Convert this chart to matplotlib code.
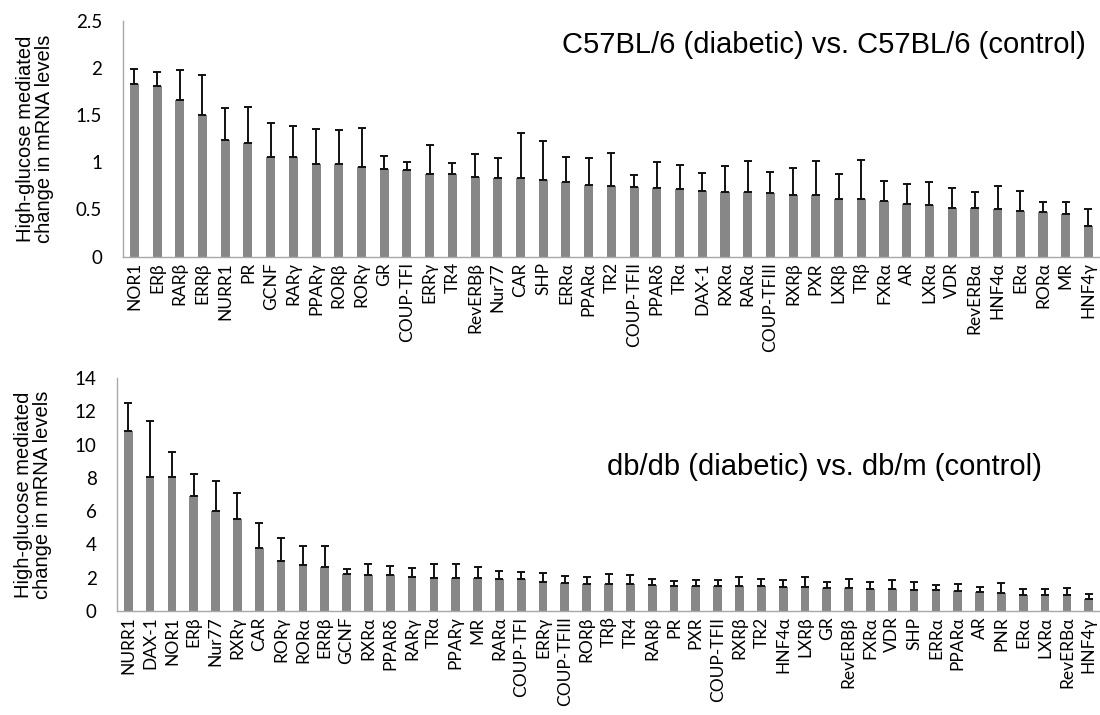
import matplotlib
matplotlib.use("Agg")
import matplotlib.pyplot as plt
import numpy as np

# C57BL/6 diabetic vs control
genes_c57 = ["NOR1", "ERβ", "RARβ", "ERRβ", "NURR1", "PR", "GCNF", "RARγ", "PPARγ",
             "RORβ", "RORγ", "GR", "COUP-TFI", "ERRγ", "TR4", "RevERBβ", "Nur77", "CAR",
             "SHP", "ERRα", "PPARα", "TR2", "COUP-TFII", "PPARδ", "TRα", "DAX-1", "RXRα",
             "RARα", "COUP-TFIII", "RXRβ", "PXR", "LXRβ", "TRβ", "FXRα", "AR", "LXRα",
             "VDR", "RevERBα", "HNF4α", "ERα", "RORα", "MR", "HNF4γ"]
mean_c57 = [1.83, 1.81, 1.66, 1.50, 1.24, 1.20, 1.06, 1.05, 0.98, 0.98, 0.95, 0.93,
            0.92, 0.87, 0.87, 0.84, 0.83, 0.83, 0.81, 0.79, 0.76, 0.75, 0.74, 0.73,
            0.72, 0.70, 0.69, 0.68, 0.67, 0.65, 0.65, 0.61, 0.61, 0.59, 0.56, 0.55,
            0.52, 0.52, 0.50, 0.48, 0.47, 0.45, 0.32]
err_c57 = [0.16, 0.15, 0.32, 0.42, 0.33, 0.38, 0.36, 0.33, 0.37, 0.36, 0.41, 0.14,
           0.08, 0.31, 0.12, 0.25, 0.21, 0.48, 0.41, 0.26, 0.28, 0.35, 0.12, 0.27,
           0.25, 0.19, 0.27, 0.33, 0.23, 0.29, 0.36, 0.26, 0.41, 0.21, 0.21, 0.24,
           0.21, 0.16, 0.25, 0.22, 0.11, 0.13, 0.18]

# db/db diabetic vs db/m control
genes_db = ["NURR1", "DAX-1", "NOR1", "ERβ", "Nur77", "RXRγ", "CAR", "RORγ", "RORα",
            "ERRβ", "GCNF", "RXRα", "PPARδ", "RARγ", "TRα", "PPARγ", "MR", "RARα",
            "COUP-TFI", "ERRγ", "COUP-TFIII", "RORβ", "TRβ", "TR4", "RARβ", "PR", "PXR",
            "COUP-TFII", "RXRβ", "TR2", "HNF4α", "LXRβ", "GR", "RevERBβ", "FXRα", "VDR",
            "SHP", "ERRα", "PPARα", "AR", "PNR", "ERα", "LXRα", "RevERBα", "HNF4γ"]
mean_db = [10.82, 8.07, 8.03, 6.91, 6.03, 5.53, 3.77, 3.02, 2.74, 2.64, 2.21, 2.18,
           2.15, 2.04, 2.00, 1.99, 1.97, 1.95, 1.92, 1.77, 1.70, 1.65, 1.65, 1.60,
           1.58, 1.48, 1.48, 1.48, 1.48, 1.48, 1.44, 1.44, 1.40, 1.40, 1.32, 1.32,
           1.28, 1.26, 1.20, 1.14, 1.08, 0.98, 0.96, 0.94, 0.72]
err_db = [1.66, 3.37, 1.53, 1.34, 1.80, 1.54, 1.52, 1.39, 1.15, 1.27, 0.31, 0.67,
          0.57, 0.52, 0.80, 0.81, 0.68, 0.44, 0.43, 0.50, 0.38, 0.37, 0.57, 0.54,
          0.32, 0.34, 0.36, 0.36, 0.58, 0.44, 0.40, 0.58, 0.36, 0.50, 0.40, 0.54,
          0.48, 0.32, 0.44, 0.32, 0.60, 0.32, 0.38, 0.44, 0.32]

tick_font = ["Lato", "Noto Sans", "DejaVu Sans"]
text_font = ["Liberation Sans", "DejaVu Sans"]
ylab = "High-glucose mediated\nchange in mRNA levels"

fig = plt.figure(figsize=(11, 7.15), dpi=100)
ax1 = fig.add_axes([0.1118, 0.641, 0.888, 0.3303])
ax2 = fig.add_axes([0.1067, 0.1455, 0.893, 0.3259])


def draw(ax, genes, mean, err, ymax, step, title, tx, ty, lab_size):
    x = np.arange(len(genes))
    # upward-only error bars, as in the original Excel figure
    ax.bar(x, mean, width=0.4, color="#878787",
           yerr=[np.zeros(len(err)), err], capsize=3.2,
           error_kw=dict(ecolor="#111111", elinewidth=1.4, capthick=1.4))
    ax.set_xlim(-0.5, len(genes) - 0.5)
    ax.set_ylim(0, ymax)
    ticks = np.arange(0, ymax + step / 2, step)
    ax.set_yticks(ticks)
    ax.set_yticklabels([f"{t:g}" for t in ticks], family=tick_font, fontsize=13.5)
    ax.set_xticks(x)
    ax.set_xticklabels(genes, rotation=90, family=tick_font, fontsize=lab_size)
    ax.tick_params(axis="both", length=0)
    ax.tick_params(axis="y", pad=15)
    ax.tick_params(axis="x", pad=4)
    for s in ["top", "right"]:
        ax.spines[s].set_visible(False)
    for s in ["left", "bottom"]:
        ax.spines[s].set_color("#a8a8a8")
        ax.spines[s].set_linewidth(1.0)
    ax.set_ylabel(ylab, family=text_font, fontsize=14.5, labelpad=16, linespacing=1.0)
    ax.text(tx, ty, title, transform=ax.transAxes, family=text_font, fontsize=21,
            ha="right", va="center")


draw(ax1, genes_c57, mean_c57, err_c57, 2.5, 0.5,
     "C57BL/6 (diabetic) vs. C57BL/6 (control)", 0.986, 0.895, 12.5)
draw(ax2, genes_db, mean_db, err_db, 14, 2,
     "db/db (diabetic) vs. db/m (control)", 0.941, 0.618, 12.5)

fig.savefig("out.png", dpi=100)
